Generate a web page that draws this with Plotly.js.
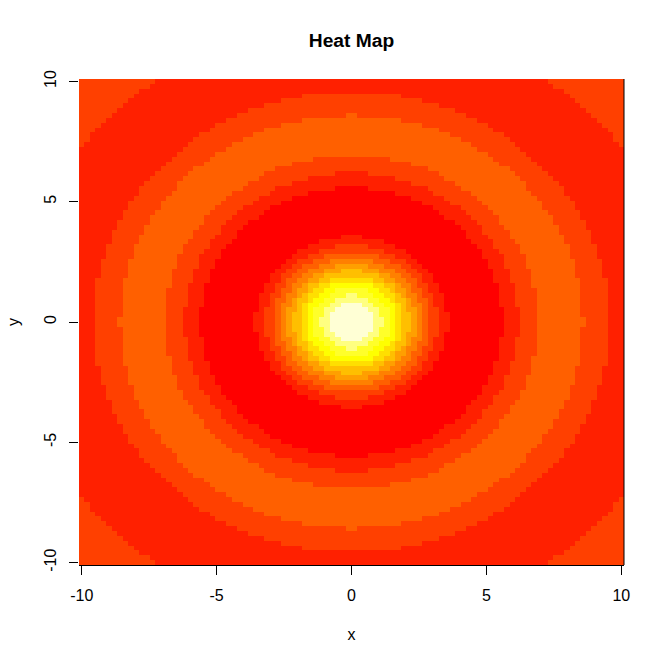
<!DOCTYPE html>
<html>
<head>
<meta charset="utf-8">
<script src="https://cdn.plot.ly/plotly-3.0.1.min.js"></script>
<style>html,body{margin:0;padding:0;background:#fff}</style>
</head>
<body>
<div id="chart" style="width:665px;height:664px"></div>
<script>
// Half-widths (in cells from the centre, per row counted outward from the centre)
// of each colour band. Image is symmetric in both axes.
var bandOuter1 = [50,50,50,50,50,50,50,50,50,50,50,50,50,50,50,50,50,50,50,50,50,50,50,50,50,50,50,50,50,50,50,50,50,50,50,50,49,48,48,47,46,45,44,43,42,41,40,39,37,36];
var bandRing2b = [47,47,47,47,47,47,47,47,47,46,46,46,46,45,45,45,44,44,44,43,43,42,42,41,41,40,39,39,38,37,36,35,34,33,32,31,30,29,28,26,25,23,21,19,16,13,9];
var bandRing3  = [43,42,42,42,42,42,42,42,42,41,41,41,41,40,40,40,39,39,38,38,37,37,36,35,35,34,33,32,32,31,30,29,27,26,25,23,22,20,18,16,13,9,1];
var bandRing2a = [34,34,34,34,34,34,34,33,33,33,33,32,32,32,31,31,30,29,29,28,27,27,26,25,24,23,22,20,19,17,16,14,11,7];
var bandRing1  = [31,31,31,30,30,30,30,30,29,29,29,28,28,28,27,26,26,25,24,24,23,22,21,20,18,17,15,14,11,8,3];
var bandTrough = [28,28,28,27,27,27,27,27,26,26,26,25,25,24,24,23,22,21,21,20,19,17,16,15,13,11,8,3];
var bandPeak1  = [18,18,17,17,17,17,16,16,15,15,14,13,12,11,10,8,6,2];
var bandPeak2  = [16,16,16,15,15,15,14,14,13,13,12,11,10,8,6,3];
var bandPeak3  = [14,14,14,14,14,13,13,12,12,11,10,9,7,5];
var bandPeak4  = [13,13,13,13,12,12,11,11,10,9,8,6,4];
var bandPeak5  = [12,12,12,11,11,10,10,9,8,7,5,3];
var bandPeak6  = [11,11,10,10,10,9,8,8,6,5,2];
var bandPeak7  = [9,9,9,9,8,8,7,6,4];
var bandPeak8  = [8,8,8,8,7,6,5,4];
var bandPeak9  = [7,7,7,6,5,4,3];
var bandPeak10 = [6,5,5,4,3,1];
var bandPeak11 = [4,4,3,2];

var heatColors = ['#FF0000','#FF2000','#FF4000','#FF6000','#FF8000','#FF9F00','#FFBF00','#FFDF00','#FFFF00','#FFFF2A','#FFFF80','#FFFFD5'];
var tickValues = [-10,-5,0,5,10];
var tickLabels = ['-10','-5','0','5','10'];
var backgroundLevel = 2;

// Painted from the outside in: each band overrides what lies outside it.
var paintOrder = [
  [bandOuter1,1],[bandRing2b,2],[bandRing3,3],[bandRing2a,2],[bandRing1,1],[bandTrough,0],
  [bandPeak1,1],[bandPeak2,2],[bandPeak3,3],[bandPeak4,4],[bandPeak5,5],[bandPeak6,6],
  [bandPeak7,7],[bandPeak8,8],[bandPeak9,9],[bandPeak10,10],[bandPeak11,11]
];
var cellsPerSide = 100;
var z = [];
for (var r = 0; r < cellsPerSide; r++) {
  var row = [];
  var j = r < cellsPerSide/2 ? cellsPerSide/2 - 1 - r : r - cellsPerSide/2;
  for (var c = 0; c < cellsPerSide; c++) {
    var i = c < cellsPerSide/2 ? cellsPerSide/2 - 1 - c : c - cellsPerSide/2;
    var lvl = backgroundLevel;
    paintOrder.forEach(function (b) { if (j < b[0].length && i < b[0][j]) lvl = b[1]; });
    row.push(lvl);
  }
  z.push(row);
}
var scale = [];
heatColors.forEach(function (col, k) {
  scale.push([k/12, col]); scale.push([(k+1)/12, col]);
});

var font = {family:'"Liberation Sans", Arial, sans-serif', size:16, color:'#000'};
var axisCommon = {
  tickmode:'array', tickvals:tickValues, ticktext:tickLabels,
  ticks:'outside', ticklen:9, tickwidth:1, tickcolor:'#000',
  showgrid:false, zeroline:false, tickfont:font, ticklabelstandoff:7
};
var cell = 20/99;
Plotly.newPlot('chart', [{
  type:'heatmap', z:z, x0:-10, dx:cell, y0:-10, dy:cell,
  zmin:-0.5, zmax:11.5, colorscale:scale, showscale:false, zsmooth:false, hoverongaps:false
}], {
  width:665, height:664,
  paper_bgcolor:'#fff', plot_bgcolor:'#fff',
  margin:{l:78.8, r:40.8, t:78.6, b:98.6, pad:0},
  title:{text:'<b>Heat Map</b>', x:0.5, xref:'paper', xanchor:'center', y:0.939, yref:'container', yanchor:'middle',
         font:{family:font.family, size:19.2, color:'#000'}},
  xaxis:Object.assign({}, axisCommon, {
    range:[-10-cell/2, 10+cell/2], showline:true, linecolor:'#000', linewidth:1,
    title:{text:'x', font:font, standoff:25}
  }),
  yaxis:Object.assign({}, axisCommon, {
    range:[-10-cell/2, 10+cell/2], tickangle:-90, showline:false,
    title:{text:'y', font:font, standoff:17}
  }),
  shapes:[{type:'line', xref:'paper', yref:'paper', x0:1, x1:1, y0:0, y1:1, line:{color:'#000', width:1}}]
}, {displayModeBar:false, staticPlot:true});
</script>
</body>
</html>
